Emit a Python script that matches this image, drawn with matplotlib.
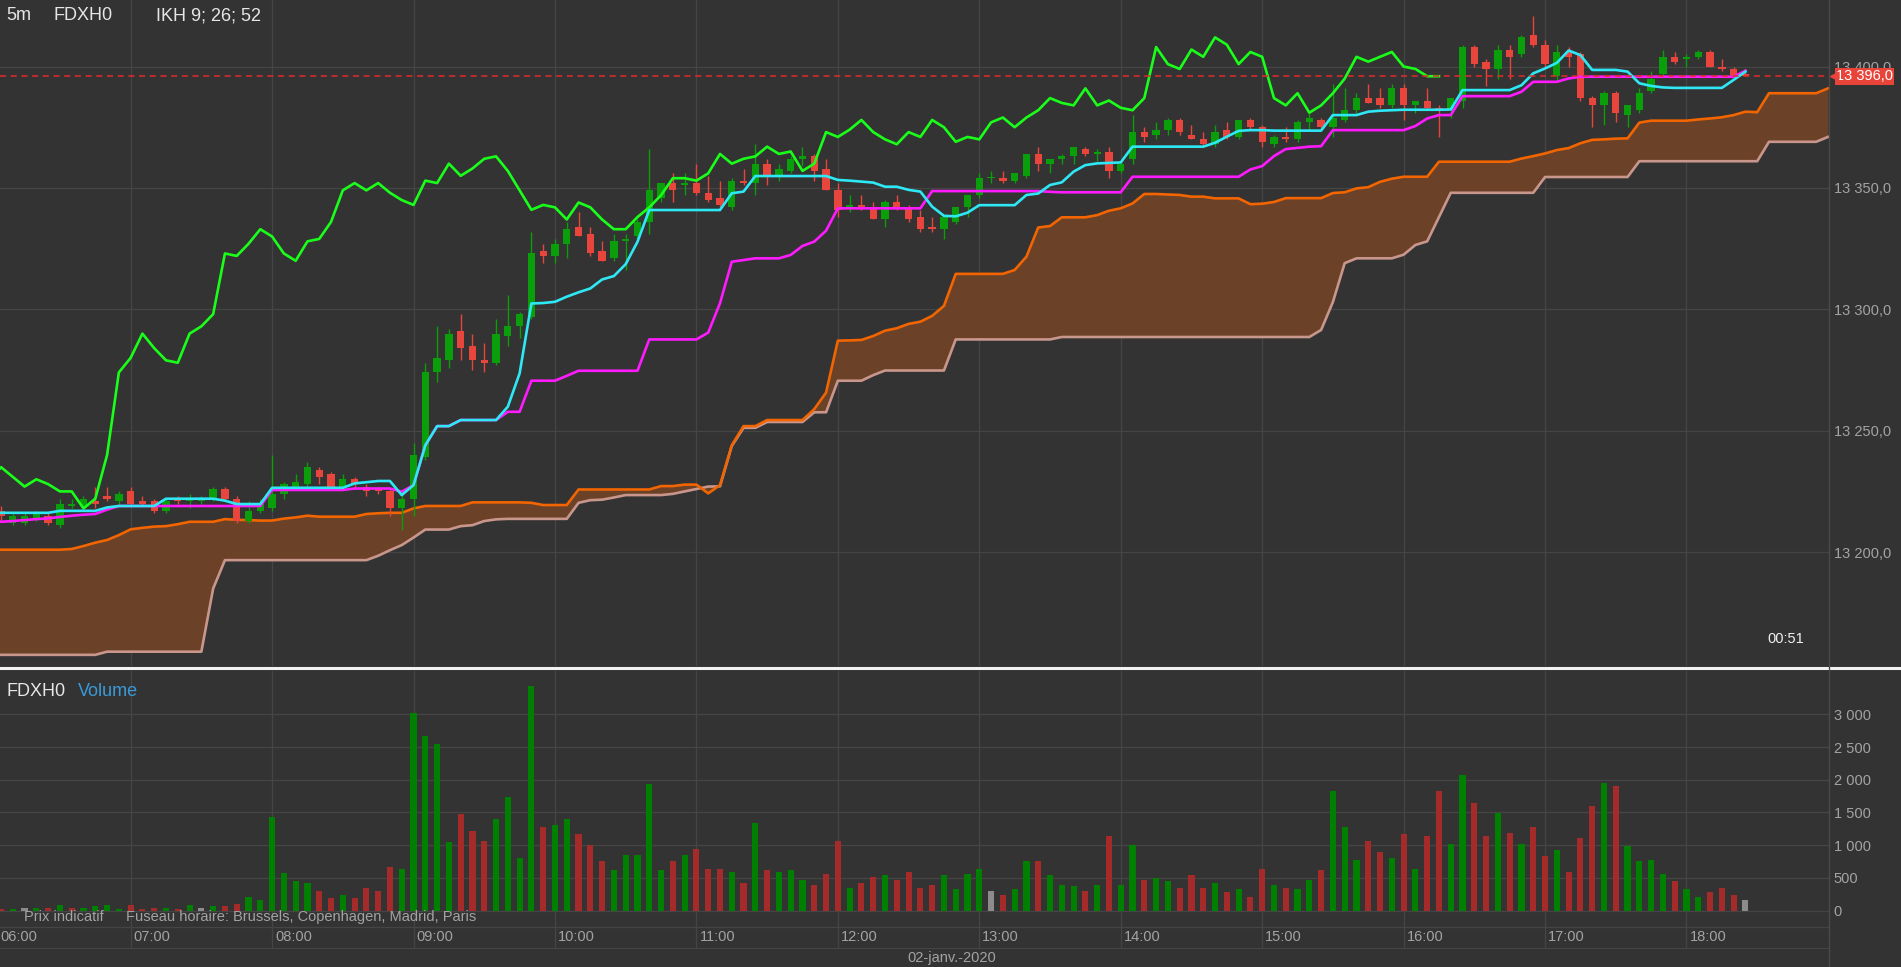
import matplotlib
matplotlib.use("Agg")
import matplotlib.pyplot as plt
import matplotlib.transforms as mtransforms
from matplotlib.lines import Line2D
from matplotlib.ticker import FuncFormatter
import numpy as np

plt.rcParams["font.family"] = ["Liberation Sans", "DejaVu Sans"]

# 5-minute bars FDXH0, 02.01.2020, 06:00 .. 18:25
opens = [
    13216, 13217, 13212, 13212, 13214, 13215, 13211, 13219, 13219, 13221,
    13223, 13221, 13225, 13221, 13221, 13217, 13222, 13221, 13221, 13222,
    13226, 13222, 13213, 13217, 13218, 13224, 13227, 13228, 13234, 13232,
    13227, 13230, 13227, 13226, 13225, 13218, 13222, 13239, 13274, 13279,
    13291, 13285, 13279, 13278, 13289, 13293, 13297, 13324, 13322, 13327,
    13334, 13331, 13324, 13321, 13328, 13330, 13336, 13346, 13352, 13351,
    13352, 13348, 13346, 13342, 13353, 13352, 13360, 13355, 13357, 13362,
    13363, 13358, 13349, 13342, 13343, 13342, 13337, 13344, 13342, 13338,
    13334, 13333, 13336, 13342, 13347, 13354, 13354, 13353, 13355, 13364,
    13360, 13362, 13363, 13366, 13364, 13365, 13357, 13362, 13373, 13372,
    13374, 13378, 13372, 13370, 13368, 13374, 13371, 13378, 13375, 13368,
    13371, 13370, 13377, 13378, 13375, 13378, 13382, 13387, 13387, 13384,
    13391, 13384, 13386, 13383, 13382, 13386, 13408, 13402, 13399, 13407,
    13405, 13413, 13409, 13396, 13406, 13405, 13387, 13384, 13389, 13380,
    13382, 13390, 13397, 13404, 13403, 13404, 13406, 13400, 13399, 13397,
]
highs = [
    13218, 13219, 13216, 13216, 13217, 13216, 13222, 13222, 13223, 13227,
    13227, 13225, 13227, 13223, 13222, 13222, 13223, 13224, 13223, 13227,
    13227, 13223, 13221, 13222, 13240, 13229, 13232, 13237, 13235, 13233,
    13232, 13231, 13228, 13227, 13226, 13224, 13245, 13278, 13293, 13292,
    13298, 13290, 13286, 13296, 13306, 13299, 13332, 13327, 13329, 13336,
    13340, 13334, 13328, 13331, 13331, 13337, 13366, 13352, 13356, 13356,
    13360, 13355, 13353, 13354, 13358, 13368, 13362, 13360, 13363, 13367,
    13364, 13362, 13352, 13347, 13347, 13344, 13345, 13347, 13343, 13341,
    13338, 13339, 13342, 13347, 13356, 13357, 13357, 13356, 13364, 13367,
    13362, 13364, 13367, 13367, 13366, 13367, 13361, 13380, 13375, 13377,
    13379, 13379, 13376, 13373, 13376, 13377, 13378, 13379, 13376, 13372,
    13375, 13378, 13381, 13379, 13393, 13391, 13389, 13393, 13391, 13393,
    13393, 13386, 13391, 13384, 13387, 13409, 13409, 13403, 13409, 13409,
    13413, 13421, 13411, 13409, 13408, 13406, 13388, 13390, 13390, 13384,
    13391, 13398, 13407, 13406, 13405, 13407, 13407, 13403, 13400, 13399,
]
lows = [
    13214, 13213, 13211, 13211, 13213, 13211, 13210, 13218, 13218, 13218,
    13221, 13220, 13219, 13219, 13216, 13216, 13220, 13218, 13220, 13221,
    13221, 13212, 13212, 13216, 13217, 13222, 13226, 13227, 13228, 13226,
    13226, 13226, 13223, 13224, 13215, 13209, 13215, 13238, 13270, 13276,
    13279, 13275, 13274, 13277, 13285, 13288, 13296, 13319, 13319, 13321,
    13330, 13322, 13320, 13320, 13316, 13329, 13331, 13344, 13344, 13347,
    13347, 13344, 13342, 13341, 13351, 13347, 13351, 13353, 13356, 13359,
    13353, 13349, 13338, 13340, 13341, 13337, 13334, 13341, 13336, 13332,
    13332, 13329, 13335, 13338, 13346, 13352, 13352, 13352, 13354, 13357,
    13356, 13360, 13360, 13363, 13361, 13354, 13356, 13360, 13369, 13370,
    13372, 13372, 13370, 13367, 13367, 13370, 13370, 13374, 13367, 13367,
    13369, 13369, 13374, 13374, 13371, 13377, 13381, 13385, 13383, 13383,
    13378, 13381, 13382, 13371, 13379, 13383, 13400, 13392, 13395, 13395,
    13404, 13408, 13400, 13394, 13400, 13386, 13375, 13376, 13377, 13375,
    13381, 13389, 13396, 13401, 13400, 13403, 13400, 13398, 13396, 13396,
]
closes = [
    13217, 13215, 13215, 13215, 13216, 13212, 13220, 13220, 13222, 13220,
    13222, 13224, 13220, 13220, 13217, 13221, 13221, 13222, 13222, 13226,
    13222, 13213, 13217, 13220, 13224, 13228, 13229, 13235, 13231, 13227,
    13230, 13228, 13225, 13225, 13218, 13222, 13240, 13274, 13280, 13290,
    13284, 13279, 13278, 13290, 13293, 13298, 13323, 13322, 13327, 13333,
    13330, 13323, 13320, 13328, 13329, 13336, 13349, 13352, 13349, 13352,
    13348, 13345, 13343, 13353, 13352, 13360, 13355, 13358, 13362, 13363,
    13357, 13349, 13341, 13343, 13342, 13337, 13344, 13342, 13337, 13333,
    13333, 13338, 13342, 13347, 13354, 13354, 13353, 13356, 13364, 13360,
    13362, 13363, 13367, 13364, 13365, 13357, 13360, 13373, 13371, 13374,
    13378, 13373, 13370, 13368, 13373, 13371, 13378, 13375, 13369, 13371,
    13370, 13377, 13379, 13375, 13379, 13382, 13387, 13385, 13384, 13391,
    13384, 13386, 13383, 13382, 13387, 13408, 13401, 13399, 13407, 13404,
    13412, 13409, 13401, 13406, 13404, 13387, 13384, 13389, 13381, 13384,
    13389, 13395, 13404, 13402, 13404, 13406, 13400, 13399, 13396, 13396,
]

# Ichimoku lines as drawn (tenkan 9, kijun 26, senkou spans shifted 26 ahead)
tenkan = [
    13216.2, 13216.2, 13216.2, 13216.2, 13216.2, 13216.2, 13217.0, 13217.0, 13217.0, 13217.0,
    13218.4, 13219.0, 13219.0, 13219.0, 13219.0, 13222.0, 13222.0, 13222.0, 13222.0, 13222.0,
    13221.2, 13219.8, 13219.8, 13219.8, 13226.5, 13226.5, 13226.5, 13226.5, 13226.5, 13226.5,
    13226.5, 13228.3, 13228.8, 13229.3, 13229.3, 13223.5, 13227.6, 13244.0, 13251.9, 13251.9,
    13254.4, 13254.4, 13254.4, 13254.4, 13259.9, 13273.6, 13302.4, 13302.6, 13303.1, 13305.2,
    13307.0, 13308.6, 13312.3, 13313.7, 13318.6, 13327.8, 13340.9, 13340.9, 13340.9, 13340.9,
    13340.9, 13340.9, 13340.9, 13347.8, 13348.5, 13354.9, 13354.9, 13354.9, 13354.9, 13354.9,
    13354.9, 13354.9, 13353.3, 13353.0, 13352.6, 13352.2, 13350.5, 13350.5, 13349.2, 13348.5,
    13342.3, 13338.5, 13338.3, 13339.8, 13342.9, 13342.9, 13342.9, 13342.9, 13347.1, 13347.7,
    13351.2, 13352.3, 13356.7, 13359.4, 13360.1, 13360.3, 13360.5, 13367.0, 13367.0, 13367.0,
    13367.0, 13367.0, 13367.0, 13367.0, 13368.6, 13371.1, 13373.5, 13373.8, 13373.8, 13373.6,
    13373.6, 13373.6, 13373.6, 13373.6, 13380.0, 13380.0, 13380.0, 13381.4, 13381.8, 13382.0,
    13382.2, 13382.2, 13382.2, 13382.2, 13382.3, 13390.3, 13390.3, 13390.3, 13390.3, 13390.3,
    13392.3, 13397.2, 13399.2, 13401.5, 13406.6, 13404.7, 13398.6, 13398.6, 13398.6, 13397.9,
    13393.1, 13392.0, 13391.4, 13391.2, 13391.2, 13391.2, 13391.2, 13391.2, 13394.5, 13397.9,
]
kijun = [
    13212.5, 13212.5, 13212.8, 13213.2, 13213.6, 13213.9, 13214.5, 13215.0, 13215.4, 13215.7,
    13217.5, 13219.0, 13219.0, 13219.0, 13219.0, 13219.0, 13219.0, 13219.0, 13219.0, 13219.0,
    13219.0, 13219.0, 13219.0, 13219.0, 13225.6, 13225.6, 13225.6, 13225.6, 13225.6, 13225.6,
    13225.6, 13226.2, 13226.2, 13226.2, 13226.2, 13224.9, 13227.6, 13244.0, 13251.9, 13251.9,
    13254.4, 13254.4, 13254.4, 13254.4, 13257.8, 13257.8, 13270.6, 13270.6, 13270.6, 13272.6,
    13274.7, 13274.7, 13274.7, 13274.7, 13274.7, 13274.7, 13287.6, 13287.6, 13287.6, 13287.6,
    13287.6, 13290.4, 13302.5, 13319.6, 13320.3, 13321.0, 13321.0, 13321.0, 13322.4, 13326.1,
    13327.9, 13332.4, 13341.6, 13341.6, 13341.6, 13341.6, 13341.6, 13341.6, 13341.6, 13341.6,
    13348.7, 13348.7, 13348.7, 13348.7, 13348.7, 13348.7, 13348.7, 13348.7, 13348.7, 13348.7,
    13348.4, 13348.2, 13348.2, 13348.2, 13348.2, 13348.2, 13348.2, 13354.6, 13354.6, 13354.6,
    13354.6, 13354.6, 13354.6, 13354.6, 13354.6, 13354.6, 13354.6, 13357.6, 13359.0, 13363.1,
    13366.0, 13366.5, 13367.0, 13367.2, 13373.8, 13373.8, 13373.8, 13373.8, 13373.8, 13373.8,
    13373.8, 13375.5, 13378.6, 13380.0, 13380.0, 13387.8, 13387.8, 13387.8, 13387.8, 13387.8,
    13389.6, 13393.7, 13393.7, 13393.7, 13395.1, 13395.8, 13395.8, 13395.8, 13395.8, 13395.8,
    13395.8, 13395.8, 13395.8, 13395.8, 13395.8, 13395.8, 13395.8, 13395.8, 13395.8, 13398.3,
]
span_a = [
    13201.0, 13201.0, 13201.0, 13201.0, 13201.0, 13201.0, 13201.0, 13201.3, 13202.5, 13203.9,
    13205.0, 13207.0, 13209.4, 13210.0, 13210.5, 13210.7, 13211.5, 13212.5, 13212.5, 13212.5,
    13213.6, 13213.3, 13213.2, 13213.0, 13213.0, 13213.8, 13214.3, 13215.0, 13214.6, 13214.6,
    13214.6, 13214.6, 13215.7, 13216.0, 13216.2, 13216.2, 13218.0, 13219.0, 13219.0, 13219.0,
    13219.0, 13220.5, 13220.5, 13220.5, 13220.5, 13220.5, 13220.3, 13219.4, 13219.4, 13219.4,
    13225.8, 13225.8, 13225.8, 13225.8, 13225.8, 13225.8, 13225.8, 13227.2, 13227.2, 13227.8,
    13227.8, 13224.2, 13227.6, 13244.0, 13251.9, 13251.9, 13254.4, 13254.4, 13254.4, 13254.4,
    13258.9, 13265.7, 13287.1, 13287.2, 13287.4, 13289.0, 13291.2, 13292.2, 13294.0, 13294.9,
    13297.3, 13301.4, 13314.6, 13314.6, 13314.6, 13314.6, 13314.6, 13316.2, 13321.7, 13333.7,
    13334.3, 13337.9, 13337.9, 13337.9, 13338.8, 13340.6, 13341.6, 13343.6, 13347.5, 13347.5,
    13347.3, 13347.1, 13346.4, 13346.4, 13345.7, 13345.7, 13345.7, 13343.3, 13343.5, 13344.2,
    13345.8, 13345.8, 13345.8, 13345.8, 13347.9, 13348.2, 13349.8, 13350.3, 13352.5, 13353.8,
    13354.6, 13354.6, 13354.6, 13360.8, 13360.8, 13360.8, 13360.8, 13360.8, 13360.8, 13360.8,
    13362.1, 13363.1, 13364.2, 13365.6, 13366.4, 13368.4, 13369.8, 13370.0, 13370.3, 13370.4,
    13376.9, 13377.7, 13377.7, 13377.7, 13377.7, 13378.2, 13378.6, 13379.1, 13380.0, 13381.4,
    13381.2, 13389.0, 13389.0, 13389.0, 13389.0, 13389.0, 13391.0,
]
span_b = [
    13157.7, 13157.7, 13157.7, 13157.7, 13157.7, 13157.7, 13157.7, 13157.7, 13157.7, 13157.7,
    13159.0, 13159.0, 13159.0, 13159.0, 13159.0, 13159.0, 13159.0, 13159.0, 13159.0, 13185.0,
    13196.7, 13196.7, 13196.7, 13196.7, 13196.7, 13196.7, 13196.7, 13196.7, 13196.7, 13196.7,
    13196.7, 13196.7, 13196.7, 13198.5, 13200.8, 13202.9, 13206.0, 13209.3, 13209.3, 13209.3,
    13210.7, 13211.1, 13212.8, 13213.5, 13213.7, 13213.7, 13213.7, 13213.7, 13213.7, 13213.7,
    13220.3, 13221.4, 13221.6, 13222.5, 13223.5, 13223.5, 13223.5, 13223.5, 13224.0, 13225.0,
    13226.0, 13227.0, 13227.1, 13243.7, 13251.2, 13251.2, 13253.6, 13253.6, 13253.6, 13253.6,
    13257.6, 13257.6, 13270.6, 13270.6, 13270.6, 13272.9, 13274.8, 13274.8, 13274.8, 13274.8,
    13274.8, 13274.8, 13287.6, 13287.6, 13287.6, 13287.6, 13287.6, 13287.6, 13287.6, 13287.6,
    13287.6, 13288.6, 13288.6, 13288.6, 13288.6, 13288.6, 13288.6, 13288.6, 13288.6, 13288.6,
    13288.6, 13288.6, 13288.6, 13288.6, 13288.6, 13288.6, 13288.6, 13288.6, 13288.6, 13288.6,
    13288.6, 13288.6, 13288.6, 13291.5, 13303.0, 13319.0, 13321.0, 13321.0, 13321.0, 13321.0,
    13322.5, 13326.5, 13328.0, 13338.0, 13348.0, 13348.0, 13348.0, 13348.0, 13348.0, 13348.0,
    13348.0, 13348.0, 13354.5, 13354.5, 13354.5, 13354.5, 13354.5, 13354.5, 13354.5, 13354.5,
    13361.0, 13361.0, 13361.0, 13361.0, 13361.0, 13361.0, 13361.0, 13361.0, 13361.0, 13361.0,
    13361.0, 13369.0, 13369.0, 13369.0, 13369.0, 13369.0, 13371.0,
]

volumes = [
    20, 20, 20, 40, 40, 40, 85, 40, 40, 65,
    85, 20, 85, 25, 40, 40, 25, 85, 40, 65,
    65, 110, 205, 165, 1425, 570, 455, 425, 305, 190,
    235, 190, 350, 305, 665, 635, 3020, 2665, 2545, 1050,
    1475, 1210, 1065, 1400, 1735, 805, 3430, 1285, 1310, 1400,
    1165, 1000, 760, 620, 850, 850, 1930, 615, 760, 850,
    945, 635, 635, 590, 425, 1335, 615, 590, 615, 475,
    400, 565, 1065, 350, 425, 520, 545, 475, 590, 350,
    400, 545, 330, 565, 635, 305, 235, 330, 760, 760,
    545, 400, 375, 305, 400, 1140, 400, 1000, 475, 495,
    450, 350, 545, 350, 425, 280, 330, 210, 635, 400,
    350, 330, 475, 615, 1830, 1285, 780, 1065, 900, 805,
    1165, 635, 1140, 1835, 1020, 2065, 1640, 1140, 1495, 1180,
    1020, 1285, 835, 920, 590, 1115, 1600, 1945, 1900, 995,
    760, 780, 565, 450, 330, 210, 280, 350, 235, 165,
]
# g = up, r = down, n = unchanged
volume_dir = (
    "rrgngrgrgg" "ggrrrgrgng" "rrggggggrr" "grrrrggggg" "rrrggggrgg"
    "rrrgggggrg" "rrrgrgrggg" "rrrgrrgrrr" "rggggnrggr" "gggrgrggrg"
    "grrrgrgrrg" "rggrgggrrg" "rgrrggrrgr" "grrgrrrgrg" "gggrggrrrn"
)

hour_labels = ["06:00", "07:00", "08:00", "09:00", "10:00", "11:00", "12:00",
               "13:00", "14:00", "15:00", "16:00", "17:00", "18:00"]
price_ticks = [13200, 13250, 13300, 13350, 13400]
volume_ticks = [0, 500, 1000, 1500, 2000, 2500, 3000]
last_price = 13396.0

BG = "#333333"
GRID = "#454545"
TXT = "#a3a3a3"
UP, DOWN = "#0a9e0a", "#e8453c"
VOL_COL = {"g": "#008000", "r": "#a52a2a", "n": "#8c8c8c"}

W, H = 1901, 967


def fx(px):
    return px / W


def fy(py):
    return 1 - py / H


fig = plt.figure(figsize=(W / 100, H / 100), dpi=100, facecolor=BG)
ax_p = fig.add_axes([0, fy(666), fx(1829), 666 / H], facecolor=BG)
ax_v = fig.add_axes([0, fy(947.7), fx(1829), (947.7 - 671) / H], facecolor=BG)

o = np.array(opens, float)
h = np.array(highs, float)
l = np.array(lows, float)
c = np.array(closes, float)
idx = np.arange(len(c))
idx_s = np.arange(len(span_a))
hour_idx = np.arange(len(hour_labels)) * 12

x_view = (0.916, 156.09)
for ax in (ax_p, ax_v):
    ax.set_xticks(hour_idx)
    ax.set_xlim(*x_view)  # after set_xticks, which would widen the view to 06:00
    ax.set_axisbelow(True)
    ax.grid(True, color=GRID, lw=0.9)
    for s in ax.spines.values():
        s.set_visible(False)
    ax.tick_params(axis="x", length=0, labelbottom=False)
    ax.tick_params(axis="y", length=0, left=False, labelleft=False,
                   right=True, labelright=True, labelcolor=TXT,
                   labelsize=10.5, pad=3.5)

# ---- price panel
ax_p.set_yticks(price_ticks)
ax_p.set_ylim(13153.1, 13427.4)
ax_p.yaxis.set_major_formatter(
    FuncFormatter(lambda v, _: f"{v:,.1f}".replace(",", " ").replace(".", ",")))

ax_p.fill_between(idx_s, span_a, span_b, color="#6b4128", lw=0, zorder=1)
ax_p.plot(idx_s, span_b, color="#c9968c", lw=1.9, zorder=2)
ax_p.plot(idx_s, span_a, color="#f26500", lw=1.9, zorder=2)

col = np.where(c >= o, UP, DOWN)
ax_p.vlines(idx, l, h, colors=col, lw=1.0, zorder=3)
ax_p.bar(idx, np.maximum(np.abs(c - o), 0.6), bottom=np.minimum(o, c),
         width=0.62, color=col, lw=0, zorder=3)

ax_p.plot(idx[:-26], c[26:], color="#1aff1a", lw=1.9, zorder=4)
ax_p.plot(idx, kijun, color="#ff1aff", lw=1.9, zorder=4)
ax_p.plot(idx, tenkan, color="#2ee8f5", lw=1.9, zorder=4)
ax_p.set_xlim(*x_view)

ax_p.axhline(last_price, color="#e02a2a", lw=1.1, ls=(0, (4, 3)), zorder=5)
edge = mtransforms.blended_transform_factory(ax_p.transAxes, ax_p.transData)
ax_p.text(1.0, last_price, f"{last_price:,.1f}".replace(",", " ").replace(".", ","),
          transform=mtransforms.offset_copy(edge, fig=fig, x=7, y=0, units="dots"),
          ha="left", va="center", color="white", fontsize=10.5, clip_on=False,
          bbox=dict(boxstyle="square,pad=0.1", fc="#e8443a", ec="none"), zorder=10)
ax_p.plot([1.0], [last_price], marker="<", ms=6, color="#e8443a", clip_on=False,
          transform=mtransforms.offset_copy(edge, fig=fig, x=5, y=0, units="dots"),
          zorder=10)

fig.text(fx(6), fy(16), "5m", color="#e6e6e6", fontsize=13, va="center")
fig.text(fx(53), fy(16), "FDXH0", color="#e6e6e6", fontsize=13, va="center")
fig.text(fx(156), fy(16), "IKH 9; 26; 52", color="#e6e6e6", fontsize=13, va="center")
fig.text(fx(1804), fy(639), "00:51", color="#f0f0f0", fontsize=10.5,
         ha="right", va="center")

# ---- volume panel
ax_v.set_yticks(volume_ticks)
ax_v.set_ylim(-565, 3661)
ax_v.yaxis.set_major_formatter(FuncFormatter(lambda v, _: f"{v:,.0f}".replace(",", " ")))
ax_v.bar(idx, volumes, width=0.52, color=[VOL_COL[d] for d in volume_dir],
         lw=0, zorder=2)
ax_v.set_xlim(*x_view)
ax_v.axhline(-244, color=GRID, lw=0.9)
ax_v.spines["bottom"].set_visible(True)
ax_v.spines["bottom"].set_color(GRID)

lab_tr = mtransforms.offset_copy(ax_v.transData, fig=fig, x=3, y=0, units="dots")
for hi, lab in zip(hour_idx, hour_labels):
    ax_v.text(max(hi, x_view[0] - 0.2), -402, lab, transform=lab_tr,
              ha="left", va="center", color=TXT, fontsize=10.5, clip_on=False)

row_tr = mtransforms.blended_transform_factory(ax_v.transAxes, ax_v.transData)
ax_v.text(0.013, -95, "Prix indicatif", transform=row_tr,
          ha="left", va="center", color=TXT, fontsize=10.5, zorder=6)
ax_v.text(0.069, -95, "Fuseau horaire: Brussels, Copenhagen, Madrid, Paris",
          transform=row_tr, ha="left", va="center", color=TXT, fontsize=10.5, zorder=6)

fig.text(fx(6), fy(692), "FDXH0", color="#e6e6e6", fontsize=13, va="center")
fig.text(fx(78), fy(692), "Volume", color="#3a9ad9", fontsize=13, va="center")
fig.text(fx(952), fy(958), "02-janv.-2020", color=TXT, fontsize=10.5,
         ha="center", va="center")

# panel separators
fig.add_artist(Line2D([0, 1], [fy(668), fy(668)], color="#f2f2f2", lw=2.2))
fig.add_artist(Line2D([fx(1829), fx(1829)], [0, 1], color="#4a4a4a", lw=1.0))

fig.savefig("out.png", dpi=100, facecolor=BG)
